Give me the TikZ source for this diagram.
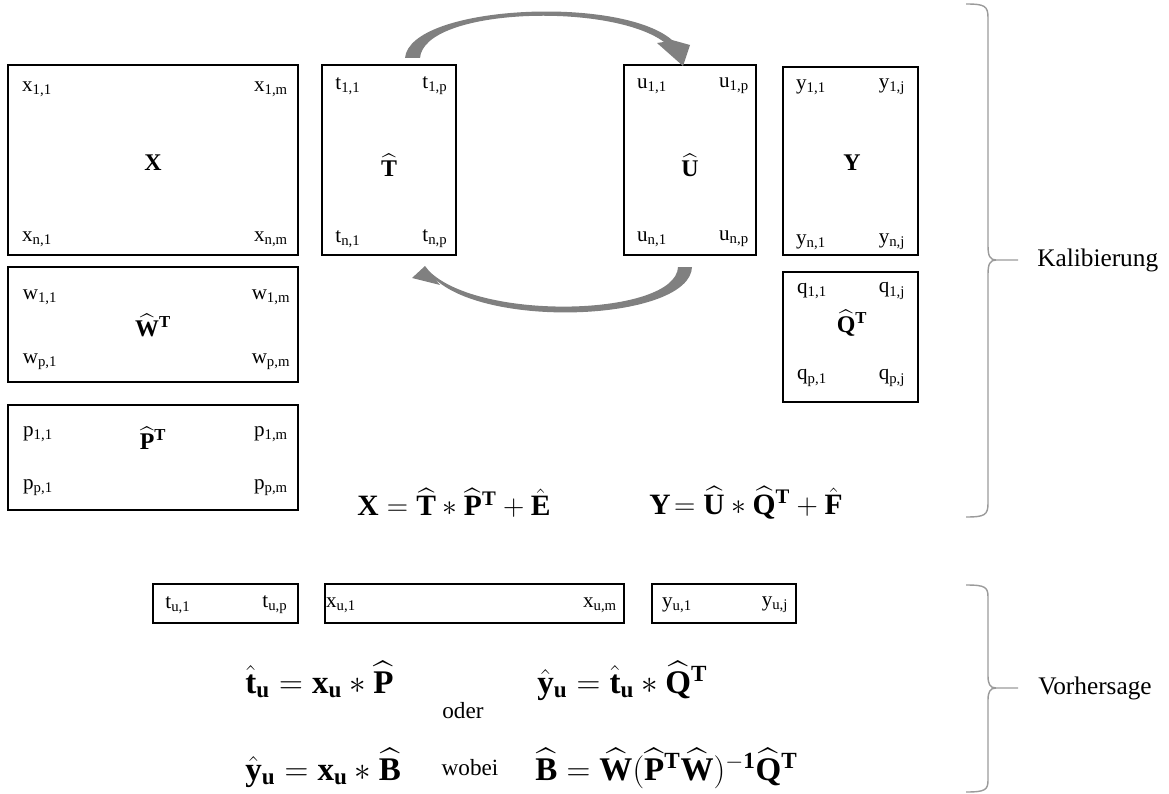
\RequirePackage{fix-cm}
\documentclass[tikz,border=0pt]{standalone}
\usepackage{amsmath}
\usepackage{fontspec}
\setmainfont{Liberation Serif}
\usetikzlibrary{positioning}
\definecolor{arrgray}{RGB}{128,128,128}
\definecolor{bracegray}{RGB}{155,155,155}

\begin{document}
\begin{tikzpicture}[x=0.025cm, y=-0.025cm,
    mat/.style={rectangle, draw=black, line width=1.2pt, inner sep=0pt},
    lbl/.style={font=\fontsize{15}{17}\selectfont, inner sep=0pt},
    word/.style={font=\fontsize{16.5}{19}\selectfont, inner sep=0pt, anchor=base},
    sym/.style={font=\fontsize{17}{20}\selectfont, inner sep=0pt},
    eqn/.style={font=\fontsize{21}{25}\selectfont, inner sep=0pt},
    predeq/.style={font=\fontsize{23.5}{28}\selectfont, inner sep=0pt, anchor=base west},
    sidelbl/.style={font=\fontsize{18}{21}\selectfont, anchor=west, inner sep=0pt},
    bracepath/.style={draw=bracegray, line width=1pt},
    turnarrow/.style={fill=arrgray, draw=none}]

\useasboundingbox (0,0) rectangle (1169,794);

% ════════════════════════════════════════
%  LEFT: X, W^T, P^T
% ════════════════════════════════════════

% X
\node[mat, minimum width=7.25cm, minimum height=4.75cm] (X) at (153,160) {};
\node[sym] (Xs) at (153,163) {$\mathbf{X}$};
\node[lbl] (x11) at (37,89) {x\textsubscript{1,1}};
\node[lbl] (x1m) at (271,89) {x\textsubscript{1,m}};
\node[lbl] (xn1) at (37,239) {x\textsubscript{n,1}};
\node[lbl] (xnm) at (271,239) {x\textsubscript{n,m}};

% W^T
\node[mat, minimum width=7.25cm, minimum height=2.875cm] (W) at (153,324.5) {};
\node[sym] (Ws) at (153,325) {$\widehat{\mathbf{W}}^{\mathbf{T}}$};
\node[lbl] (w11) at (40,297) {w\textsubscript{1,1}};
\node[lbl] (w1m) at (271,297) {w\textsubscript{1,m}};
\node[lbl] (wp1) at (40,362) {w\textsubscript{p,1}};
\node[lbl] (wpm) at (271,362) {w\textsubscript{p,m}};

% P^T
\node[mat, minimum width=7.25cm, minimum height=2.625cm] (P) at (153,457.5) {};
\node[sym] (Ps) at (153,438) {$\widehat{\mathbf{P}}^{\mathbf{T}}$};
\node[lbl] (p11) at (38,434) {p\textsubscript{1,1}};
\node[lbl] (p1m) at (271,434) {p\textsubscript{1,m}};
\node[lbl] (pp1) at (38,488) {p\textsubscript{p,1}};
\node[lbl] (ppm) at (271,488) {p\textsubscript{p,m}};

% ════════════════════════════════════════
%  CENTER: T and U
% ════════════════════════════════════════

% T
\node[mat, minimum width=3.35cm, minimum height=4.75cm] (T) at (389,160) {};
\node[sym] (Ts) at (389,165) {$\widehat{\mathbf{T}}$};
\node[lbl] (t11) at (348,86) {t\textsubscript{1,1}};
\node[lbl] (t1p) at (435,86) {t\textsubscript{1,p}};
\node[lbl] (tn1) at (348,239) {t\textsubscript{n,1}};
\node[lbl] (tnp) at (435,239) {t\textsubscript{n,p}};

% U
\node[mat, minimum width=3.3cm, minimum height=4.75cm] (U) at (690,160) {};
\node[sym] (Us) at (690,165) {$\widehat{\mathbf{U}}$};
\node[lbl] (u11) at (652,86) {u\textsubscript{1,1}};
\node[lbl] (u1p) at (734,86) {u\textsubscript{1,p}};
\node[lbl] (un1) at (652,239) {u\textsubscript{n,1}};
\node[lbl] (unp) at (734,239) {u\textsubscript{n,p}};

% Curved arrows T -> U and U -> T
\fill[turnarrow] (405,58) .. controls (410,5) and (620,-5) .. (672,40)
    -- (690,45) -- (683,66) -- (657,43) -- (664,42)
    .. controls (610,2) and (424,8) .. (420,58) -- cycle;
\fill[turnarrow] (692,267) .. controls (690,320) and (490,330) .. (435,279)
    -- (440,285) -- (412,278) -- (425,266) -- (429,271)
    .. controls (480,322) and (676,316) .. (678,267) -- cycle;

% ════════════════════════════════════════
%  RIGHT: Y and Q^T
% ════════════════════════════════════════

% Y
\node[mat, minimum width=3.375cm, minimum height=4.7cm] (Y) at (850.5,161) {};
\node[sym] (Ys) at (852,163) {$\mathbf{Y}$};
\node[lbl] (y11) at (811,87) {y\textsubscript{1,1}};
\node[lbl] (y1j) at (892,87) {y\textsubscript{1,j}};
\node[lbl] (yn1) at (811,242) {y\textsubscript{n,1}};
\node[lbl] (ynj) at (892,242) {y\textsubscript{n,j}};

% Q^T
\node[mat, minimum width=3.375cm, minimum height=3.25cm] (Q) at (850.5,337) {};
\node[sym] (Qs) at (852,323) {$\widehat{\mathbf{Q}}^{\mathbf{T}}$};
\node[lbl] (q11) at (812,291) {q\textsubscript{1,1}};
\node[lbl] (q1j) at (892,291) {q\textsubscript{1,j}};
\node[lbl] (qp1) at (812,378) {q\textsubscript{p,1}};
\node[lbl] (qpj) at (892,378) {q\textsubscript{p,j}};

% Model equations
\node[eqn] (eqX) at (454,503)
    {$\mathbf{X} = \widehat{\mathbf{T}} * \widehat{\mathbf{P}}^{\mathbf{T}} + \hat{\mathbf{E}}$};
\node[eqn] (eqY) at (746,503)
    {$\mathbf{Y}\!= \widehat{\mathbf{U}} * \widehat{\mathbf{Q}}^{\mathbf{T}} + \hat{\mathbf{F}}$};

% ════════════════════════════════════════
%  BOTTOM: prediction
% ════════════════════════════════════════

\node[mat, minimum width=3.625cm, minimum height=0.975cm] (tu) at (225.5,603.5) {};
\node[lbl] (tu1) at (178,605) {t\textsubscript{u,1}};
\node[lbl] (tup) at (275,605) {t\textsubscript{u,p}};

\node[mat, minimum width=7.475cm, minimum height=0.975cm] (xu) at (474.5,603.5) {};
\node[lbl] (xu1) at (341,605) {x\textsubscript{u,1}};
\node[lbl] (xum) at (600,605) {x\textsubscript{u,m}};

\node[mat, minimum width=3.6cm, minimum height=0.975cm] (yu) at (724,603.5) {};
\node[lbl] (yu1) at (677,605) {y\textsubscript{u,1}};
\node[lbl] (yuj) at (775,605) {y\textsubscript{u,j}};

\node[predeq] (eqt) at (245,693)
    {$\hat{\mathbf{t}}_{\mathbf{u}} = \mathbf{x}_{\mathbf{u}} * \widehat{\mathbf{P}}$};
\node[predeq] (eqyt) at (537,693)
    {$\hat{\mathbf{y}}_{\mathbf{u}} = \hat{\mathbf{t}}_{\mathbf{u}} * \widehat{\mathbf{Q}}^{\mathbf{T}}$};
\node[word] (oder) at (463,718) {oder};
\node[predeq] (eqyb) at (245,780)
    {$\hat{\mathbf{y}}_{\mathbf{u}} = \mathbf{x}_{\mathbf{u}} * \widehat{\mathbf{B}}$};
\node[word] (wobei) at (470,775) {wobei};
\node[predeq] (eqB) at (535,780)
    {$\widehat{\mathbf{B}} = \widehat{\mathbf{W}}(\widehat{\mathbf{P}}^{\mathbf{T}}\widehat{\mathbf{W}})^{-\mathbf{1}}\widehat{\mathbf{Q}}^{\mathbf{T}}$};

% ════════════════════════════════════════
%  Braces
% ════════════════════════════════════════

\coordinate (kaltop) at (966,4);
\coordinate (kaltip) at (1018,260);
\coordinate (kalbot) at (966,517);
\draw[bracepath] (kaltop) .. controls (985,4) and (988,6) .. (988,18) -- (988,246)
    .. controls (988,256) and (990,260) .. (996,260) -- (kaltip);
\draw[bracepath] (996,260) .. controls (990,260) and (988,264) .. (988,274) -- (988,503)
    .. controls (988,515) and (985,517) .. (kalbot);
\node[sidelbl] (kal) at (1037,260) {Kalibierung};

\coordinate (vortop) at (966,585);
\coordinate (vortip) at (1018,688);
\coordinate (vorbot) at (966,792);
\draw[bracepath] (vortop) .. controls (985,585) and (988,587) .. (988,597) -- (988,676)
    .. controls (988,684) and (990,688) .. (996,688) -- (vortip);
\draw[bracepath] (996,688) .. controls (990,688) and (988,692) .. (988,700) -- (988,780)
    .. controls (988,790) and (985,792) .. (vorbot);
\node[sidelbl] (vor) at (1038,688) {Vorhersage};

\end{tikzpicture}
\end{document}
